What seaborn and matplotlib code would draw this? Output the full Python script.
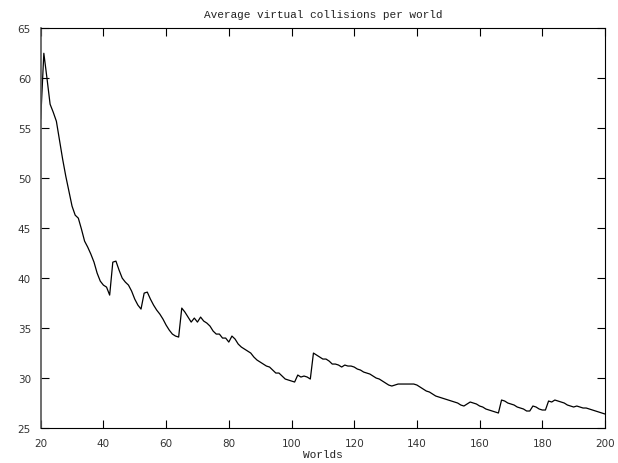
import numpy as np
import pandas as pd
import matplotlib
matplotlib.use("Agg")
import matplotlib.pyplot as plt
import seaborn as sns

worlds = list(range(20, 201))
collisions = [
    55.9, 62.5, 60.0, 57.4, 56.6, 55.7, 53.8, 51.9, 50.2, 48.7,
    47.2, 46.3, 46.0, 44.9, 43.7, 43.1, 42.4, 41.6, 40.5, 39.7,
    39.3, 39.1, 38.3, 41.6, 41.7, 40.8, 40.0, 39.6, 39.3, 38.7,
    37.9, 37.3, 36.9, 38.5, 38.6, 37.9, 37.3, 36.8, 36.4, 35.9,
    35.3, 34.8, 34.4, 34.2, 34.1, 37.0, 36.6, 36.1, 35.6, 36.0,
    35.6, 36.1, 35.7, 35.5, 35.2, 34.7, 34.4, 34.4, 34.0, 34.0,
    33.6, 34.2, 33.9, 33.4, 33.1, 32.9, 32.7, 32.5, 32.1, 31.8,
    31.6, 31.4, 31.2, 31.1, 30.8, 30.5, 30.5, 30.2, 29.9, 29.8,
    29.7, 29.6, 30.3, 30.1, 30.2, 30.1, 29.9, 32.5, 32.3, 32.1,
    31.9, 31.9, 31.7, 31.4, 31.4, 31.3, 31.1, 31.3, 31.2, 31.2,
    31.1, 30.9, 30.8, 30.6, 30.5, 30.4, 30.2, 30.0, 29.9, 29.7,
    29.5, 29.3, 29.2, 29.3, 29.4, 29.4, 29.4, 29.4, 29.4, 29.4,
    29.3, 29.1, 28.9, 28.7, 28.6, 28.4, 28.2, 28.1, 28.0, 27.9,
    27.8, 27.7, 27.6, 27.5, 27.3, 27.2, 27.4, 27.6, 27.5, 27.4,
    27.2, 27.1, 26.9, 26.8, 26.7, 26.6, 26.5, 27.8, 27.7, 27.5,
    27.4, 27.3, 27.1, 27.0, 26.9, 26.7, 26.7, 27.2, 27.1, 26.9,
    26.8, 26.8, 27.7, 27.6, 27.8, 27.7, 27.6, 27.5, 27.3, 27.2,
    27.1, 27.2, 27.1, 27.0, 27.0, 26.9, 26.8, 26.7, 26.6, 26.5,
    26.4,
]
x_ticks = [20, 40, 60, 80, 100, 120, 140, 160, 180, 200]
y_ticks = [25, 30, 35, 40, 45, 50, 55, 60, 65]

df = pd.DataFrame({"Worlds": worlds, "collisions": collisions})

sns.set_theme(style="ticks")
plt.rcParams["font.family"] = ["DejaVu Sans"]

fig = plt.figure(figsize=(6.18, 4.64), dpi=100)
ax = fig.add_axes([40.7 / 618, 35 / 464, 564.3 / 618, 399.7 / 464])

sns.lineplot(data=df, x="Worlds", y="collisions", color="black", linewidth=0.9, ax=ax)

ax.set_xlim(20, 200)
ax.set_ylim(25, 65)
ax.set_xticks(x_ticks)
ax.set_yticks(y_ticks)
ax.tick_params(direction="in", top=True, right=True, length=6, width=0.8,
               labelsize=7.5, colors="black", labelcolor="#333333")
ax.tick_params(axis="x", pad=7)
ax.tick_params(axis="y", pad=7)
for s in ax.spines.values():
    s.set_color("black")
    s.set_linewidth(0.8)
ax.spines["left"].set_color("#555555")
ax.spines["left"].set_linewidth(1.2)

ax.set_title("Average virtual collisions per world", family="Liberation Mono",
             fontsize=8, pad=8, color="#222222")
ax.set_xlabel("Worlds", family="Liberation Mono", fontsize=8, labelpad=1, color="#222222")
ax.set_ylabel("")

fig.savefig("out.png", dpi=100)
